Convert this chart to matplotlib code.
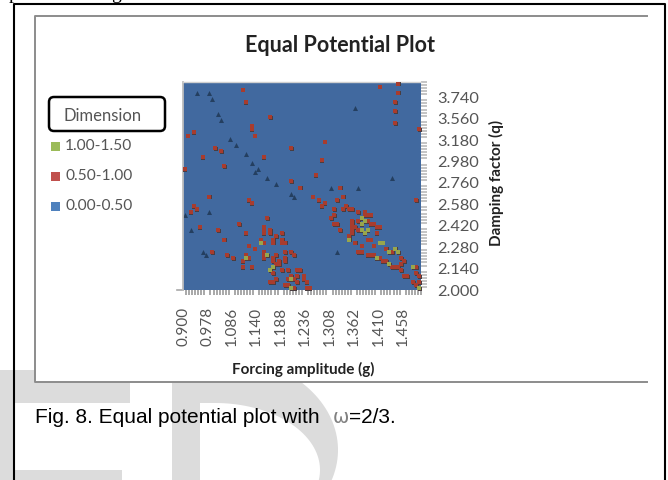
import numpy as np
import matplotlib
matplotlib.use("Agg")
import matplotlib.pyplot as plt
from matplotlib.patches import Polygon, Rectangle, FancyBboxPatch

# tick labels
g_labels = ["0.900", "0.978", "1.086", "1.140", "1.188", "1.236", "1.308", "1.362", "1.410", "1.458"]
q_labels = ["2.000", "2.140", "2.280", "2.420", "2.580", "2.760", "2.980", "3.180", "3.560", "3.740"]
legend_labels = ["1.00-1.50", "0.50-1.00", "0.00-0.50"]

# grid cells (g index, q index)
n_g = 78
n_q = 68

# small bumps still in the 0.00-0.50 band, they show up darker
low_cells = [(4, 64), (8, 64), (9, 62), (11, 57), (12, 55), (15, 49), (17, 47), (20, 44), (22, 41),
             (24, 39), (23, 38), (27, 36), (30, 34), (35, 31), (36, 30), (56, 59), (68, 36), (48, 33),
             (57, 33), (8, 25), (2, 19), (6, 12), (7, 11), (0, 24), (50, 12)]

mid_cells = [(19, 65), (20, 61), (28, 56), (22, 53), (22, 52), (23, 50), (3, 51), (1, 50), (10, 46),
             (12, 45), (6, 43), (26, 43), (35, 46), (0, 39), (13, 40), (35, 35),
             (64, 66), (70, 67), (70, 64), (69, 61), (69, 58), (69, 54), (77, 52), (46, 48), (45, 42),
             (43, 37), (51, 33), (38, 33),
             # lower left group
             (8, 30), (21, 29), (22, 28), (3, 27), (4, 26), (2, 25), (27, 23), (18, 21), (5, 20),
             (11, 19), (20, 18), (13, 16), (21, 14), (23, 13), (9, 12), (14, 11), (16, 10), (19, 7),
             (22, 7), (20, 11), (19, 9), (21, 10),
             (26, 20), (26, 19), (26, 18), (28, 19), (28, 18), (32, 18), (30, 17), (29, 16), (29, 15),
             (32, 16), (32, 15), (33, 15), (25, 16), (26, 15), (26, 12), (26, 11), (26, 10), (30, 11),
             (33, 12), (35, 12), (36, 11), (29, 10), (29, 9), (31, 9), (33, 10), (33, 9), (31, 8),
             (30, 8), (29, 5), (32, 6), (34, 6), (37, 6), (38, 6), (37, 4), (39, 4), (34, 3), (35, 4),
             (36, 3), (37, 2), (28, 2), (29, 2), (30, 3), (33, 1), (34, 1), (36, 0), (40, 2), (41, 0),
             (40, 0), (39, 3),
             # upper right band
             (42, 30), (44, 29), (46, 28), (45, 27), (52, 30), (50, 29), (49, 26), (52, 26), (53, 27),
             (54, 26), (55, 26), (57, 25), (59, 25), (60, 24), (61, 24), (49, 24), (48, 23), (49, 21),
             (50, 21), (51, 19), (76, 29),
             (55, 22), (55, 21), (55, 20), (55, 19), (55, 18), (54, 17), (56, 15), (58, 14), (57, 12),
             (58, 12), (60, 22), (61, 21), (62, 21), (63, 20), (64, 20), (63, 18), (60, 16), (61, 16),
             (62, 14), (59, 24), (57, 22), (60, 11), (61, 11), (62, 11), (64, 10), (65, 9), (66, 9),
             (68, 7), (69, 7), (70, 7), (71, 6), (72, 4), (73, 4), (75, 2), (76, 1), (77, 2), (76, 5),
             (77, 4), (76, 7), (71, 10), (72, 9), (71, 8), (68, 12), (66, 13), (56, 20), (57, 19)]

high_cells = [(20, 10), (25, 15), (27, 11), (29, 7), (28, 6), (35, 3), (35, 0), (58, 23), (59, 22),
              (58, 21), (58, 19), (60, 19), (59, 18), (54, 16), (64, 15), (65, 15), (67, 12), (69, 13),
              (70, 12), (75, 7), (77, 0), (67, 8), (63, 10)]

base_blue = "#41699f"
low_dark = "#243f60"
mid_red = "#a83c2e"
high_green = "#98a64c"
shadow = "#4a3d40"
key_colors = ["#9bbb59", "#c0504d", "#4f81bd"]
text_grey = "#555555"


def half_ellipse(cx, cy, rx, ry, left):
    # right half of an ellipse closed off by a straight back at x = left
    t = np.linspace(-np.pi / 2, np.pi / 2, 80)
    pts = np.column_stack([cx + rx * np.cos(t), cy + ry * np.sin(t)])
    back = [[left, cy + ry], [left, cy - ry]]
    return np.vstack([pts, back])


def cell_xy(cells):
    arr = np.array(cells, dtype=float)
    return arr[:, 0] + 0.5, arr[:, 1] + 0.5


fig = plt.figure(figsize=(6.68, 4.8), dpi=100)

# page layer in pixels, y going down
page = fig.add_axes([0, 0, 1, 1])
page.set_xlim(0, 668)
page.set_ylim(480, 0)
page.axis("off")

# watermark letters behind the figure
wm = "#dcdcdc"
page.add_patch(Rectangle((0, 370), 130, 33, color=wm, lw=0))
page.add_patch(Rectangle((0, 370), 14, 110, color=wm, lw=0))
page.add_patch(Rectangle((0, 470), 122, 10, color=wm, lw=0))
page.add_patch(Polygon(half_ellipse(215, 450, 123, 95, 172), color=wm, lw=0))
page.add_patch(Polygon(half_ellipse(215, 470, 105, 67, 200), color="white", lw=0))

# page frame and the chart frame
page.plot([14, 14, 665, 665], [480, 4, 4, 480], color="black", lw=1.5)
page.add_patch(Rectangle((35, 16), 612, 366, facecolor="white", edgecolor="none", zorder=3))
page.plot([647, 35, 35, 647], [16, 16, 382, 382], color="#8c8c8c", lw=1.4, zorder=4)
page.plot([177, 183], [290, 290], color="#a8a8a8", lw=1.2, zorder=4)

# cut off line of text above the frame
page.text(9, -1, "p", family="Liberation Serif", fontsize=14, color="black", va="baseline")
page.text(111, -1, "g", family="Liberation Serif", fontsize=14, color="black", va="baseline")

page.text(340, 46, "Equal Potential Plot", family="Lato", fontweight="bold", fontsize=15.5,
          color="#222222", ha="center", va="center", zorder=5)

# legend
page.add_patch(FancyBboxPatch((52, 100), 110, 28, boxstyle="round,pad=3,rounding_size=5",
                              facecolor="white", edgecolor="black", lw=1.8, zorder=5))
page.text(103, 116, "Dimension", family="Lato", fontsize=12, color=text_grey, ha="center", va="center", zorder=6)
for i, lab in enumerate(legend_labels):
    y = 146 + 30 * i
    page.add_patch(Rectangle((51, y - 4.5), 9, 9, color=key_colors[i], lw=0, zorder=5))
    page.text(65, y, lab, family="Lato", fontsize=11.2, color=text_grey, va="center", zorder=6)

page.text(303, 369, "Forcing amplitude (g)", family="Lato", fontweight="bold", fontsize=11,
          color="#222222", ha="center", va="center", zorder=5)
page.text(496, 183, "Damping factor (q)", family="Lato", fontweight="bold", fontsize=11,
          color="#222222", rotation=90, ha="center", va="center", zorder=5)

# caption
page.text(35, 423, "Fig. 8. Equal potential plot with ", family="Liberation Sans", fontsize=15,
          color="black", va="baseline", zorder=5)
page.text(333, 423, "\u03c9", family="DejaVu Sans", fontsize=14, color="#808080", va="baseline", zorder=5)
page.text(349, 423, "=2/3.", family="Liberation Sans", fontsize=15, color="black", va="baseline", zorder=5)

# the surface itself
ax = fig.add_axes([183 / 668, 1 - 290 / 480, 238 / 668, 208 / 480], zorder=6)
ax.set_facecolor(base_blue)
ax.set_xlim(0, n_g)
ax.set_ylim(0, n_q)

x, y = cell_xy(low_cells)
ax.scatter(x, y, marker="^", s=13, color=low_dark, linewidths=0, zorder=2)

x, y = cell_xy(mid_cells)
x2, y2 = cell_xy(high_cells)
ax.scatter(x + 0.2, y - 0.25, marker="s", s=9, color=shadow, linewidths=0, zorder=3)
ax.scatter(x2 + 0.2, y2 - 0.25, marker="s", s=9, color=shadow, linewidths=0, zorder=3)
ax.scatter(x, y, marker="s", s=6, color=mid_red, linewidths=0, zorder=4)
ax.scatter(x2, y2, marker="s", s=7, color=high_green, linewidths=0, zorder=5)

ax.yaxis.tick_right()
ax.set_xticks(np.arange(len(g_labels)) * 8)
ax.set_xticklabels(g_labels, rotation=90, family="Lato", fontsize=11, color=text_grey)
ax.set_yticks(np.arange(len(q_labels)) * 7)
ax.set_yticklabels(q_labels, family="Lato", fontsize=11.8, color=text_grey)
ax.set_xticks(np.arange(n_g + 1), minor=True)
ax.set_yticks(np.arange(n_q + 1), minor=True)
ax.tick_params(axis="x", which="major", length=0, pad=12.5)
ax.tick_params(axis="y", which="major", length=0, pad=11.5)
ax.tick_params(axis="x", which="minor", length=3.5, width=1.4, color="#a8a8a8")
ax.tick_params(axis="y", which="minor", length=4.5, width=1.4, color="#c4c4c4")
for side in ["right", "bottom"]:
    ax.spines[side].set_visible(False)
ax.spines["left"].set_color("#bdbdbd")
ax.spines["left"].set_linewidth(1.3)
ax.spines["top"].set_color("#d0d0d0")
ax.spines["top"].set_linewidth(1.0)

fig.savefig("out.png", dpi=100)
